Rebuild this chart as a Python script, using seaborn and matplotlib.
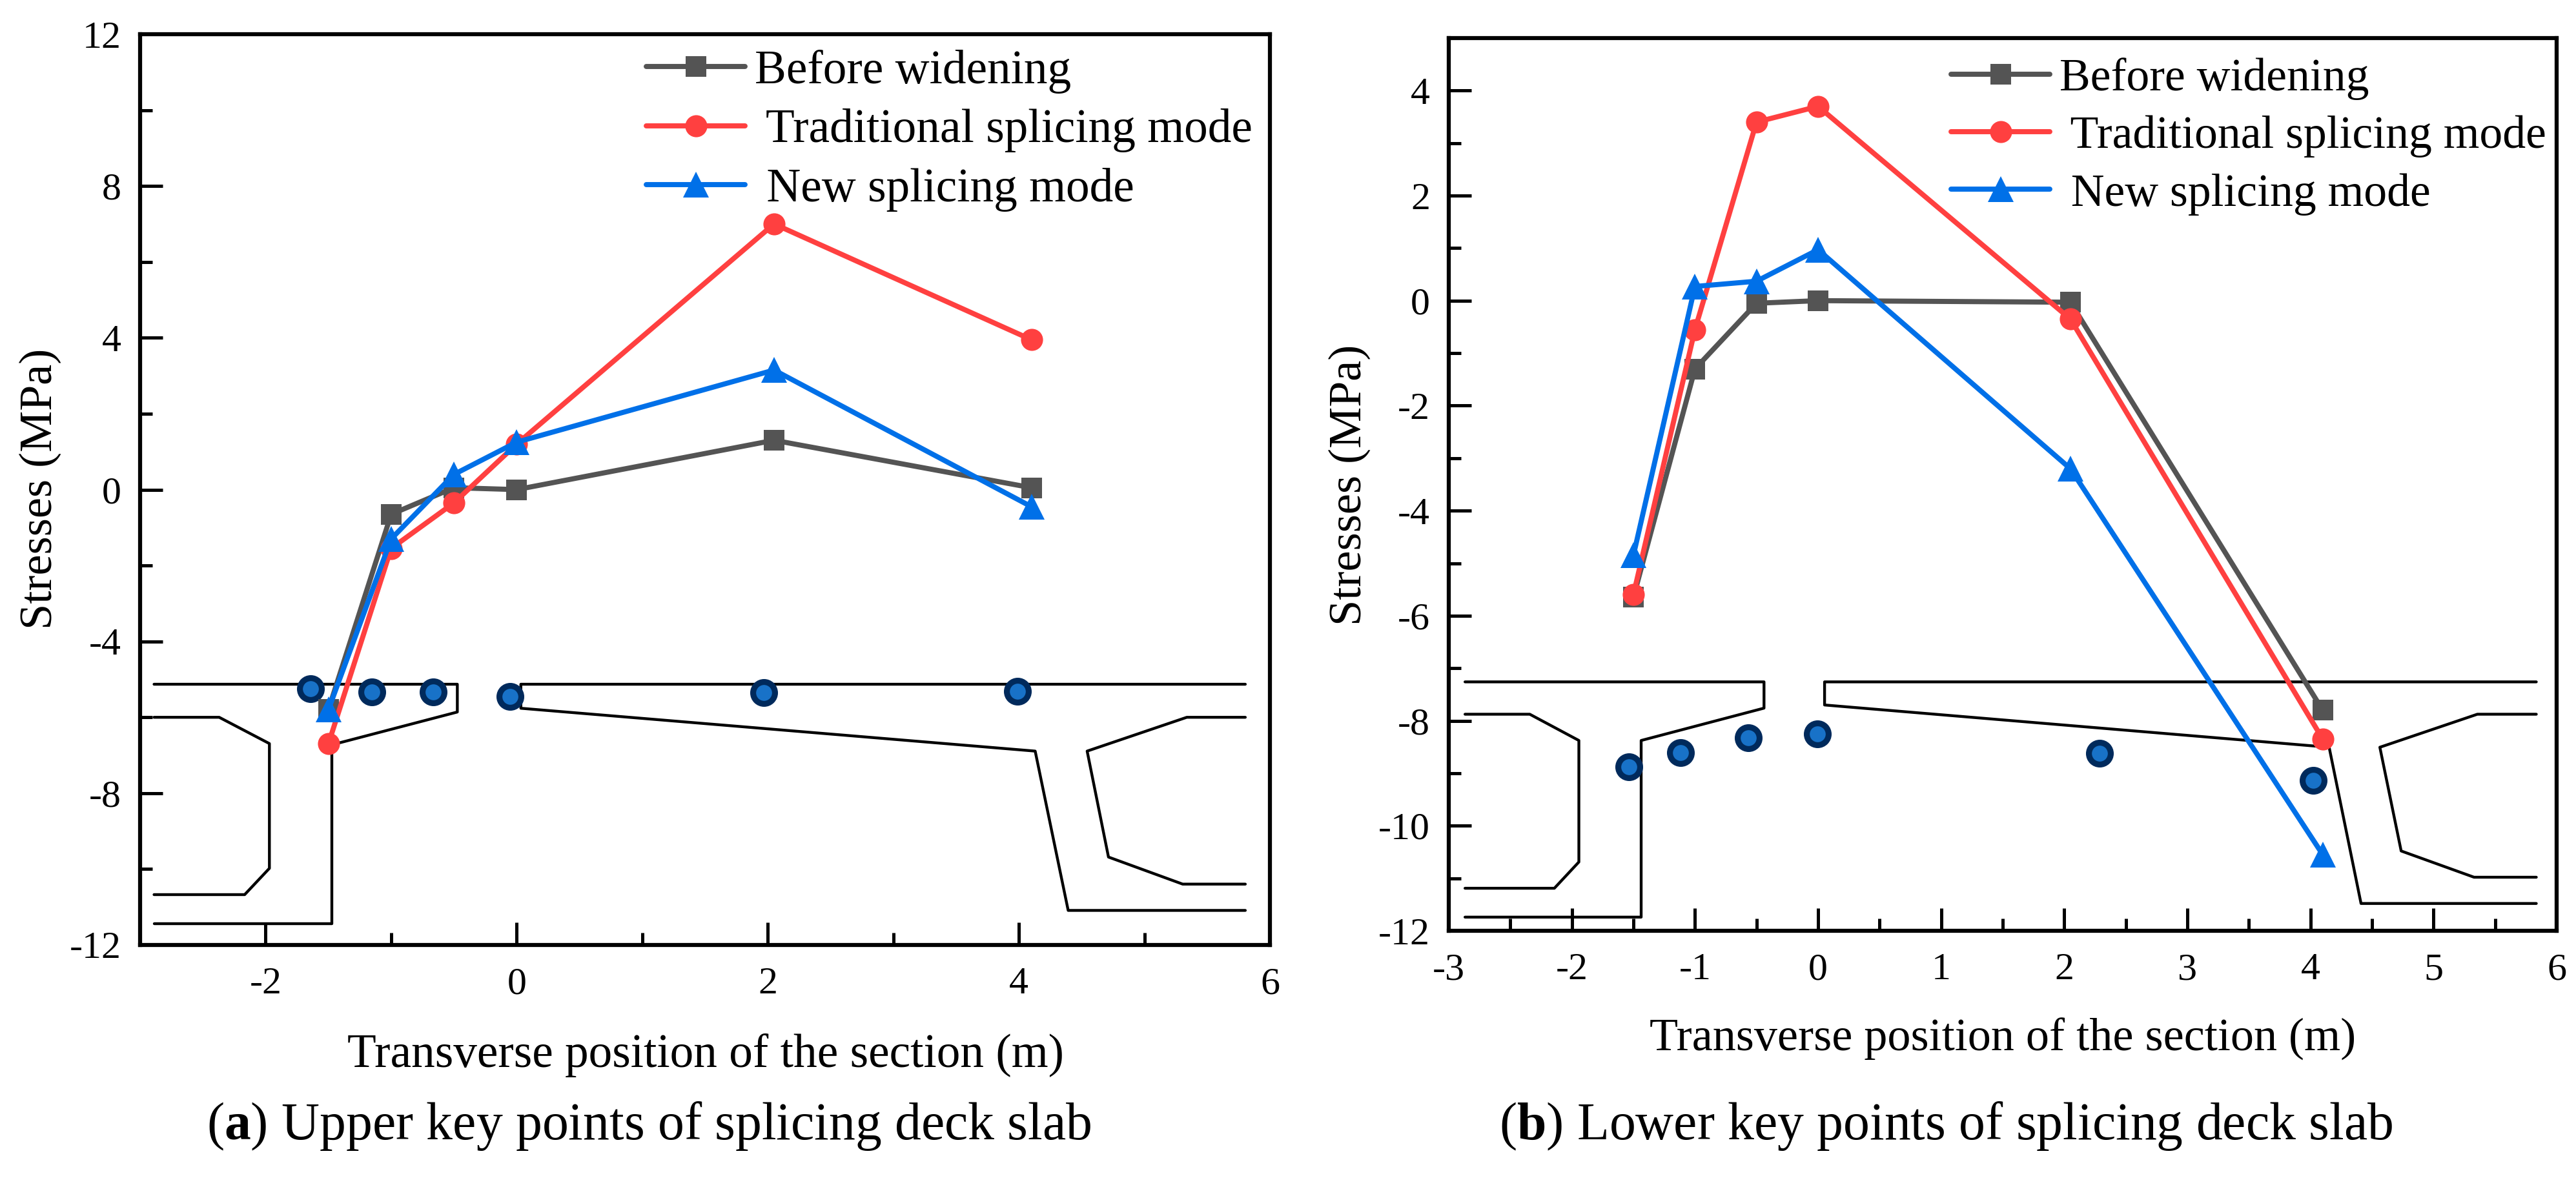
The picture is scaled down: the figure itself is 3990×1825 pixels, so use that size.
"""
Stress curves at upper and lower key points of the splicing deck slab,
drawn over the outline of the box girder section.
"""

import matplotlib
matplotlib.use("Agg")
import matplotlib.pyplot as plt
from matplotlib.ticker import MultipleLocator
import pandas as pd
import seaborn as sns

SERIES = ["Before widening", " Traditional splicing mode", " New splicing mode"]
COLORS = ["#545454", "#FF4040", "#0070E8"]
MARKERS = ["s", "o", "^"]
MARKER_SIZES = {"s": 7.6, "o": 8.2, "^": 9.4}

# Panel (a) - upper key points
X_A = [-1.5, -1.0, -0.5, 0.0, 2.05, 4.1]
BEFORE_A = [-5.8, -0.65, 0.05, 0.0, 1.3, 0.05]
TRADITIONAL_A = [-6.7, -1.55, -0.35, 1.2, 7.0, 3.95]
NEW_A = [-5.8, -1.3, 0.4, 1.25, 3.15, -0.45]
KEY_X_A = [-1.64, -1.156, -0.663, -0.053, 1.97, 3.99]
KEY_Y_A = [-5.25, -5.33, -5.33, -5.45, -5.35, -5.31]

# Panel (b) - lower key points
X_B = [-1.5, -1.0, -0.5, 0.0, 2.05, 4.1]
BEFORE_B = [-5.65, -1.3, -0.05, 0.0, -0.03, -7.8]
TRADITIONAL_B = [-5.6, -0.55, 3.4, 3.7, -0.35, -8.35]
NEW_B = [-4.85, 0.27, 0.37, 0.97, -3.2, -10.55]
KEY_X_B = [-1.537, -1.118, -0.566, -0.007, 2.289, 4.025]
KEY_Y_B = [-8.88, -8.61, -8.32, -8.25, -8.62, -9.14]

# Girder section outlines, one (x list, y list) per polyline
SECTION_A = [
    ([-2.889, -0.473, -0.473, -1.412], [-5.129, -5.129, -5.861, -6.673]),
    ([-1.471, -1.471, -2.889], [-6.673, -11.446, -11.446]),
    ([-2.889, -2.370, -1.970, -1.970, -2.167, -2.889],
     [-6.0, -6.0, -6.693, -9.98, -10.673, -10.673]),
    ([5.804, 0.033, 0.033, 4.130, 4.393, 5.804],
     [-5.129, -5.129, -5.762, -6.891, -11.089, -11.089]),
    ([5.804, 5.338, 4.544, 4.714, 5.305, 5.804],
     [-6.0, -6.0, -6.891, -9.683, -10.396, -10.396]),
]
SECTION_B = [
    ([-2.868, -0.439, -0.439, -1.437, -1.437, -2.868],
     [-7.26, -7.26, -7.76, -8.376, -11.74, -11.74]),
    ([-2.868, -2.342, -1.943, -1.943, -2.142, -2.868],
     [-7.876, -7.876, -8.376, -10.69, -11.19, -11.19]),
    ([5.835, 0.053, 0.053, 4.152, 4.411, 5.835],
     [-7.26, -7.26, -7.70, -8.505, -11.48, -11.48]),
    ([5.835, 5.356, 4.564, 4.737, 5.329, 5.835],
     [-7.876, -7.876, -8.505, -10.48, -10.98, -10.98]),
]

W, H = 3990, 1825
DPI = 300

sns.set_theme(style="ticks")
plt.rcParams["font.family"] = ["Liberation Serif", "DejaVu Serif"]
plt.rcParams["mathtext.fontset"] = "custom"
plt.rcParams["mathtext.rm"] = "Liberation Serif"
plt.rcParams["mathtext.bf"] = "Liberation Serif:bold"
plt.rcParams["axes.unicode_minus"] = False


def make_axes(fig, left, right, top, bottom):
    return fig.add_axes([left / W, 1 - bottom / H, (right - left) / W, (bottom - top) / H])


def draw_panel(ax, x, curves, key_x, key_y, section):
    # section outline first, everything else sits on top of it
    for sx, sy in section:
        sns.lineplot(x=sx, y=sy, ax=ax, sort=False, estimator=None,
                     color="black", lw=1.05, legend=False, zorder=1)

    sns.scatterplot(x=key_x, y=key_y, ax=ax, s=66, color="#1872C8",
                    edgecolor="#002A5C", linewidth=2.2, legend=False, zorder=2)

    df = pd.DataFrame({
        "x": x * 3,
        "stress": curves[0] + curves[1] + curves[2],
        "series": [s for s in SERIES for _ in x],
    })
    sns.lineplot(data=df, x="x", y="stress", hue="series", style="series",
                 hue_order=SERIES, style_order=SERIES,
                 palette=dict(zip(SERIES, COLORS)),
                 markers=dict(zip(SERIES, MARKERS)),
                 dashes=False, sort=False, estimator=None, ax=ax,
                 lw=1.9, markersize=8, markeredgewidth=0, zorder=3)


def style_panel(ax, xlim, ylim, xmajor, xminor, ymajor, yminor, anchor, legend_size, spacing):
    ax.set_xlim(*xlim)
    ax.set_ylim(*ylim)
    ax.xaxis.set_major_locator(MultipleLocator(xmajor))
    ax.xaxis.set_minor_locator(MultipleLocator(xminor))
    ax.yaxis.set_major_locator(MultipleLocator(ymajor))
    ax.yaxis.set_minor_locator(MultipleLocator(yminor))
    ax.tick_params(which="major", direction="in", length=8.5, width=1.2,
                   labelsize=14.4, color="black", labelcolor="black")
    ax.tick_params(axis="x", which="major", pad=8.2)
    ax.tick_params(axis="y", which="major", pad=7)
    ax.tick_params(which="minor", direction="in", length=4.5, width=1.2, color="black")
    for spine in ax.spines.values():
        spine.set_visible(True)
        spine.set_linewidth(1.5)
        spine.set_color("black")
    ax.set_xlabel("")
    ax.set_ylabel("")
    handles, labels = ax.get_legend_handles_labels()
    # square, circle and triangle are not the same size in the original
    for line in list(ax.lines) + list(handles):
        if line.get_marker() in MARKER_SIZES:
            line.set_markersize(MARKER_SIZES[line.get_marker()])
    ax.legend(handles, labels, loc="upper left", bbox_to_anchor=anchor, frameon=False,
              fontsize=legend_size, handlelength=36.8 / legend_size, handletextpad=0.2,
              labelspacing=spacing, borderaxespad=0, borderpad=0, labelcolor="black")


fig = plt.figure(figsize=(W / DPI, H / DPI), dpi=DPI, facecolor="white")

ax_a = make_axes(fig, 217, 1967, 53, 1464)
draw_panel(ax_a, X_A, [BEFORE_A, TRADITIONAL_A, NEW_A], KEY_X_A, KEY_Y_A, SECTION_A)
style_panel(ax_a, (-3, 6), (-12, 12), 2, 1, 4, 2, (0.448, 0.983), 17.6, 0.32)

ax_b = make_axes(fig, 2244, 3960, 59, 1442)
draw_panel(ax_b, X_B, [BEFORE_B, TRADITIONAL_B, NEW_B], KEY_X_B, KEY_Y_B, SECTION_B)
style_panel(ax_b, (-3, 6), (-12, 5), 1, 0.5, 2, 1, (0.4534, 0.978), 17.2, 0.33)


def label(px, py, text, size, **kw):
    kw.setdefault("va", "baseline")
    fig.text(px / W, 1 - py / H, text, fontsize=size, ha="center", color="black", **kw)


label(1093, 1653, "Transverse position of the section (m)", 17.6)
label(3102, 1628, "Transverse position of the section (m)", 17.3)
label(62, 757, "Stresses (MPa)", 17.3, rotation=90, va="center")
label(2090, 751, "Stresses (MPa)", 17.3, rotation=90, va="center")
label(1005, 1765, r"($\mathbf{a}$) Upper key points of splicing deck slab", 19.6)
label(3014, 1765, r"($\mathbf{b}$) Lower key points of splicing deck slab", 19.6)

fig.savefig("out.png", dpi=DPI)
